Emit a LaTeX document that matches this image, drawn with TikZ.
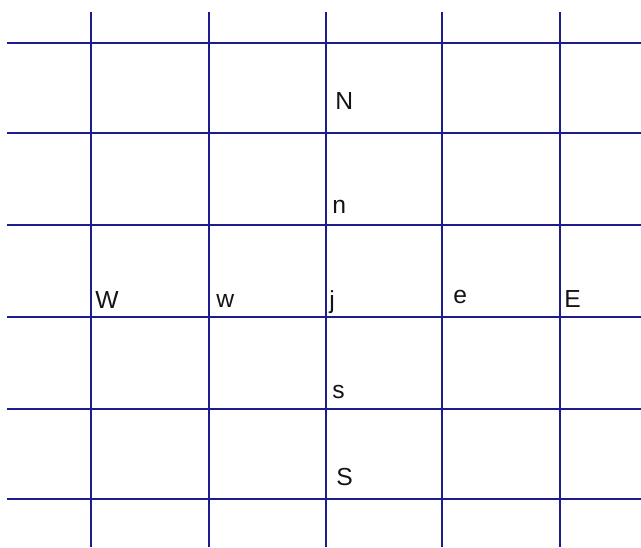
\documentclass[tikz,border=0pt]{standalone}
\usepackage{fontspec}
\setmainfont{Liberation Sans}
\usepackage{tikz}
\definecolor{gridpen}{RGB}{28,28,140}
\definecolor{labelpen}{RGB}{20,20,20}

\begin{document}
\begin{tikzpicture}[x=0.75pt, y=-0.75pt, line cap=butt,
    gridline/.style={gridpen, line width=1.5pt},
    cellname/.style={labelpen, anchor=base west, inner sep=0pt,
                     font=\fontsize{18.5}{22}\selectfont}]

  %========= geometry parameters =========
  \def\xmin{7}   \def\xmax{641}   % extent of the horizontal lines
  \def\ymin{12}  \def\ymax{547}   % extent of the vertical lines

  \useasboundingbox (0,0) rectangle (641,547);

  %========= grid =========
  \foreach \y in {43,133,225,317,409,499}
    \draw[gridline] (\xmin,\y) -- (\xmax,\y);
  \foreach \x in {91,209,326,442,560}
    \draw[gridline] (\x,\ymin) -- (\x,\ymax);

  %========= labels =========
  \node[cellname] (N) at (335,109) {N};
  \node[cellname] (n) at (332,213) {n};
  \node[cellname] (W) at (95,308)  {W};
  \node[cellname] (w) at (216,307) {w};
  \node[cellname] (j) at (329,308) {j};
  \node[cellname] (e) at (453,303) {e};
  \node[cellname] (E) at (564,307) {E};
  \node[cellname] (s) at (332,398) {s};
  \node[cellname] (S) at (336,485) {S};
\end{tikzpicture}
\end{document}
